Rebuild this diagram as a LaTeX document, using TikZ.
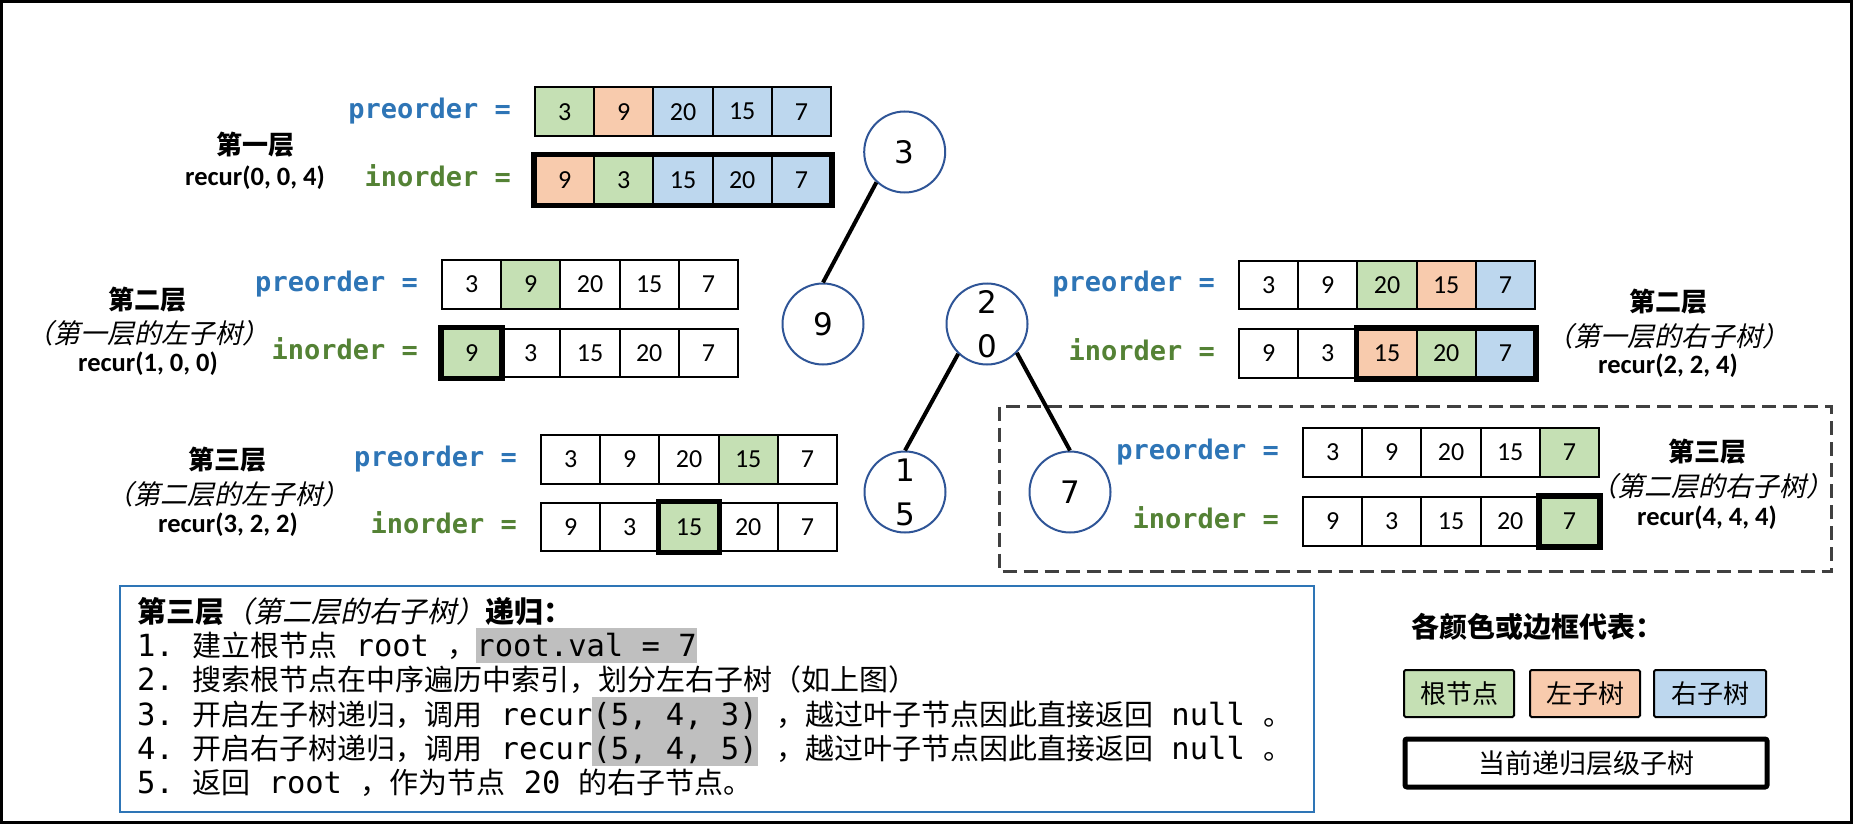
\documentclass[tikz,border=0pt]{standalone}
\usepackage{fontspec}
\usetikzlibrary{backgrounds}
\setmainfont{Carlito}
\newfontfamily\cjk{Noto Sans CJK SC}
\newfontfamily\cjkit{Noto Sans CJK SC}[FakeSlant=0.22]
\newfontfamily\mono{DejaVu Sans Mono}
\newfontfamily\treefont{DejaVu Sans}
\definecolor{cg}{HTML}{C5E0B4}
\definecolor{co}{HTML}{F8CBAD}
\definecolor{cb}{HTML}{BDD7EE}
\definecolor{preblue}{HTML}{2E75B6}
\definecolor{ingreen}{HTML}{548235}
\definecolor{circblue}{HTML}{2F5597}
\definecolor{boxblue}{HTML}{2E75B6}
\definecolor{hlgray}{HTML}{BFBFBF}
\definecolor{dashgray}{HTML}{404040}
\frenchspacing
\newcommand\hlbox[1]{{\setlength{\fboxsep}{0pt}\colorbox{hlgray}{\rule[-7pt]{0pt}{35pt}#1}}}
\newcommand\zh[1]{{\cjk\fontsize{29}{34}\selectfont #1}}
\newcommand\zhb[1]{{\cjk\bfseries\fontsize{29}{34}\selectfont #1}}
\newcommand\zhi[1]{{\cjkit\fontsize{29}{34}\selectfont #1}}
\newcommand\drawarr[4]{\foreach \v/\c [count=\i] in {#4} {\node[cell, fill=\c] (#1-\i) at ({#2+(\i-0.5)*59.2}, #3) {\v};}}
\tikzset{
  cell/.style={draw, line width=2pt, minimum width=59.2pt, minimum height=48.7pt, inner sep=0pt, font=\fontsize{26}{30}\selectfont},
  prelbl/.style={anchor=east, inner sep=0pt, text height=20pt, text depth=7pt, text=preblue, font=\mono\bfseries\fontsize{27}{30}\selectfont},
  inlbl/.style={prelbl, text=ingreen},
  thick/.style={line width=5.5pt},
  lvl/.style={inner sep=0pt, font=\cjk\bfseries\fontsize{26}{30}\selectfont},
  lvli/.style={inner sep=0pt, font=\cjkit\fontsize{27}{30}\selectfont},
  lvlr/.style={inner sep=0pt, font=\bfseries\fontsize{26.5}{30}\selectfont},
  tnode/.style={circle, draw=circblue, line width=2pt, fill=white, minimum size=81pt, inner sep=0pt, align=center, font=\treefont\fontsize{31}{44}\selectfont},
  edge/.style={line width=4pt},
  tline/.style={anchor=base west, inner sep=0pt, font=\mono\fontsize{30.5}{34}\selectfont},
  legbox/.style={draw, line width=2pt, rounded corners=1.5pt, minimum width=110pt, minimum height=47pt, inner sep=0pt, font=\cjk\fontsize{26}{30}\selectfont},
}
\begin{document}
\begin{tikzpicture}[x=1pt, y=-1pt]
\useasboundingbox (0,0) rectangle (1853,824);
\draw[line width=3pt] (1.5,1.5) rectangle (1851.5,822.5);
% dashed box
\draw[dashgray, line width=3pt, dash pattern=on 14pt off 7pt] (999.5,406.5) rectangle (1831.5,571.5);
% text box
\draw[boxblue, line width=2pt] (120,586) rectangle (1314,812);

% tree
\node[tnode] (n3) at (904.7,152) {3};
\node[tnode] (n9) at (823,324) {9};
\node[tnode] (n20) at (987,324) {2\\0};
\node[tnode] (n15) at (905,492) {1\\5};
\node[tnode] (n7) at (1070,492) {7};
\draw[edge] (n3.-133) -- (n9.north);
\draw[edge] (n20.-134) -- (n15.north);
\draw[edge] (n20.-44) -- (n7.north);

% level 1
\drawarr{Lapre}{535}{111.7}{3/cg,9/co,20/cb,15/cb,7/cb}
\drawarr{Lain}{535}{180}{9/co,3/cg,15/cb,20/cb,7/cb}
\draw[thick] (Lain-1.north west) rectangle (Lain-5.south east);
\node[prelbl] (Lapl) at ([xshift=-23pt]Lapre-1.west) {preorder =};
\node[inlbl] (Lail) at ([xshift=-23pt]Lain-1.west) {inorder =};
\node[lvl] (Lat) at (255,145) {第一层};
\node[lvlr] (Lar) at (255,178) {recur(0, 0, 4)};

% level 2 left
\drawarr{Lbpre}{442}{284.5}{3/white,9/cg,20/white,15/white,7/white}
\drawarr{Lbin}{442}{353}{9/cg,3/white,15/white,20/white,7/white}
\draw[thick] (Lbin-1.north west) rectangle (Lbin-1.south east);
\node[prelbl] (Lbpl) at ([xshift=-23pt]Lbpre-1.west) {preorder =};
\node[inlbl] (Lbil) at ([xshift=-23pt]Lbin-1.west) {inorder =};
\node[lvl] (Lbt) at (147,300) {第二层};
\node[lvli] (Lbi) at (148,333) {（第一层的左子树）};
\node[lvlr] (Lbr) at (148,364) {recur(1, 0, 0)};

% level 3 left
\drawarr{Lcpre}{541}{459.5}{3/white,9/white,20/white,15/cg,7/white}
\drawarr{Lcin}{541}{527}{9/white,3/white,15/cg,20/white,7/white}
\draw[thick] (Lcin-3.north west) rectangle (Lcin-3.south east);
\node[prelbl] (Lcpl) at ([xshift=-23pt]Lcpre-1.west) {preorder =};
\node[inlbl] (Lcil) at ([xshift=-23pt]Lcin-1.west) {inorder =};
\node[lvl] (Lct) at (227,460) {第三层};
\node[lvli] (Lci) at (228,494) {（第二层的左子树）};
\node[lvlr] (Lcr) at (228,525) {recur(3, 2, 2)};

% level 2 right
\drawarr{Ldpre}{1239}{285}{3/white,9/white,20/cg,15/co,7/cb}
\drawarr{Ldin}{1239}{353.5}{9/white,3/white,15/co,20/cg,7/cb}
\draw[thick] (Ldin-3.north west) rectangle (Ldin-5.south east);
\node[prelbl] (Ldpl) at ([xshift=-23pt]Ldpre-1.west) {preorder =};
\node[inlbl] (Ldil) at ([xshift=-23pt]Ldin-1.west) {inorder =};
\node[lvl] (Ldt) at (1668,302) {第二层};
\node[lvli] (Ldi) at (1668,336) {（第一层的右子树）};
\node[lvlr] (Ldr) at (1668,366) {recur(2, 2, 4)};

% level 3 right
\drawarr{Lepre}{1303}{452.5}{3/white,9/white,20/white,15/white,7/cg}
\drawarr{Lein}{1303}{521.5}{9/white,3/white,15/white,20/white,7/cg}
\draw[thick] (Lein-5.north west) rectangle (Lein-5.south east);
\node[prelbl] (Lepl) at ([xshift=-23pt]Lepre-1.west) {preorder =};
\node[inlbl] (Leil) at ([xshift=-23pt]Lein-1.west) {inorder =};
\node[lvl] (Let) at (1707,452) {第三层};
\node[lvli] (Lei) at (1712,486) {（第二层的右子树）};
\node[lvlr] (Ler) at (1707,518) {recur(4, 4, 4)};

% text box lines
\node[tline] (t0) at (137,622) {\zhb{第三层}\zhi{（第二层的右子树）}\zhb{递归：}};
\node[tline] (t1) at (137,656) {1. \zh{建立根节点} root \zh{，}\hlbox{root.val = 7}};
\node[tline] (t2) at (137,690) {2. \zh{搜索根节点在中序遍历中索引，划分左右子树（如上图）}};
\node[tline] (t3) at (137,725) {3. \zh{开启左子树递归，调用} recur\hlbox{(5, 4, 3)} \zh{，越过叶子节点因此直接返回} null \zh{。}};
\node[tline] (t4) at (137,759) {4. \zh{开启右子树递归，调用} recur\hlbox{(5, 4, 5)} \zh{，越过叶子节点因此直接返回} null \zh{。}};
\node[tline] (t5) at (137,793) {5. \zh{返回} root \zh{，作为节点} 20 \zh{的右子节点。}};

% legend
\node[anchor=west, inner sep=0pt, font=\cjk\bfseries\fontsize{28}{32}\selectfont] (legt) at (1411,627) {各颜色或边框代表：};
\node[legbox, fill=cg] (lg1) at (1459,693.5) {根节点};
\node[legbox, fill=co] (lg2) at (1585,693.5) {左子树};
\node[legbox, fill=cb, minimum width=112pt] (lg3) at (1710,693.5) {右子树};
\node[legbox, line width=5pt, rounded corners=2pt, minimum width=362pt, minimum height=48pt, font=\cjk\fontsize{27}{30}\selectfont] (lg4) at (1586,763) {当前递归层级子树};
\end{tikzpicture}
\end{document}
